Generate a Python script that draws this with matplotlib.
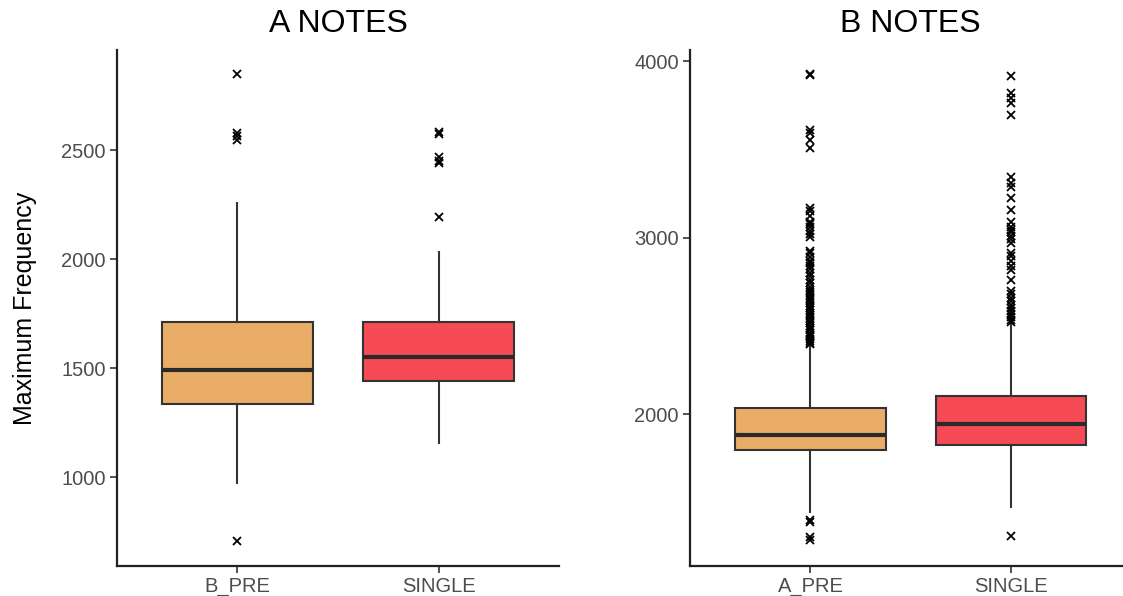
import matplotlib.pyplot as plt

plt.rcParams['font.family'] = ['Liberation Sans', 'DejaVu Sans']

# five-number summaries read per group (whisker low, q1, median, q3, whisker high)
a_groups = ['B_PRE', 'SINGLE']
a_whislo = [972, 1156]
a_q1 = [1335, 1440]
a_med = [1491, 1553]
a_q3 = [1711, 1713]
a_whishi = [2257, 2032]
a_fliers = [
    [706, 2545, 2565, 2580, 2850],
    [2195, 2440, 2450, 2468, 2575, 2582],
]

b_groups = ['A_PRE', 'SINGLE']
b_whislo = [1445, 1473]
b_q1 = [1796, 1824]
b_med = [1881, 1943]
b_q3 = [2034, 2102]
b_whishi = [2391, 2515]
b_fliers = [
    [1286, 1303, 1388, 1400,
     2395, 2405, 2415, 2425, 2440, 2450, 2460, 2475, 2490, 2500, 2515, 2530,
     2545, 2560, 2575, 2590, 2600, 2615, 2630, 2645, 2660, 2675, 2690, 2705,
     2720, 2740, 2760, 2780, 2800, 2820, 2840, 2855, 2870, 2890, 2910, 2925,
     3005, 3020, 3040, 3060, 3075, 3090, 3120, 3150, 3170,
     3510, 3555, 3590, 3610, 3920, 3925],
    [1309,
     2520, 2535, 2550, 2565, 2585, 2600, 2620, 2640, 2660, 2680, 2700,
     2760, 2815, 2840, 2870, 2895, 2912,
     2970, 2990, 3010, 3030, 3045, 3060, 3088, 3156, 3224,
     3286, 3310, 3343, 3694, 3762, 3790, 3819, 3915],
]

colors = ['#E9AD67', '#F64A55']


def make_stats(groups, whislo, q1, med, q3, whishi, fliers):
    stats = []
    for i, g in enumerate(groups):
        stats.append(dict(label=g, whislo=whislo[i], q1=q1[i], med=med[i],
                          q3=q3[i], whishi=whishi[i], fliers=fliers[i]))
    return stats


def draw_panel(ax, stats, title, ylim, yticks):
    bp = ax.bxp(stats, positions=[1, 2], widths=0.75, patch_artist=True,
                showcaps=False,
                boxprops=dict(edgecolor='#333333', linewidth=1.5),
                medianprops=dict(color='#2a2a2a', linewidth=3),
                whiskerprops=dict(color='#333333', linewidth=1.5),
                flierprops=dict(marker='x', markersize=6, markeredgecolor='black',
                                markeredgewidth=1.3, linestyle='none'))
    for patch, c in zip(bp['boxes'], colors):
        patch.set_facecolor(c)
    ax.set_xlim(0.4, 2.6)
    ax.set_ylim(*ylim)
    ax.set_yticks(yticks)
    ax.set_title(title, fontsize=23, pad=13)
    for side in ['top', 'right']:
        ax.spines[side].set_visible(False)
    for side in ['left', 'bottom']:
        ax.spines[side].set_linewidth(1.6)
        ax.spines[side].set_color('#222222')
    ax.tick_params(axis='both', labelsize=14.5, labelcolor='#4d4d4d',
                   length=5, width=1.2, color='#333333', pad=3)


fig = plt.figure(figsize=(11.23, 5.96), dpi=100)
ax1 = fig.add_axes([0.104, 0.050, 0.394, 0.866])
ax2 = fig.add_axes([0.6145, 0.050, 0.393, 0.866])

draw_panel(ax1, make_stats(a_groups, a_whislo, a_q1, a_med, a_q3, a_whishi, a_fliers),
           'A NOTES', (592, 2959), [1000, 1500, 2000, 2500])
draw_panel(ax2, make_stats(b_groups, b_whislo, b_q1, b_med, b_q3, b_whishi, b_fliers),
           'B NOTES', (1139, 4062), [2000, 3000, 4000])
ax1.set_ylabel('Maximum Frequency', fontsize=18)
ax1.yaxis.set_label_coords(-0.18, 0.5)

fig.savefig('out.png', dpi=100)
